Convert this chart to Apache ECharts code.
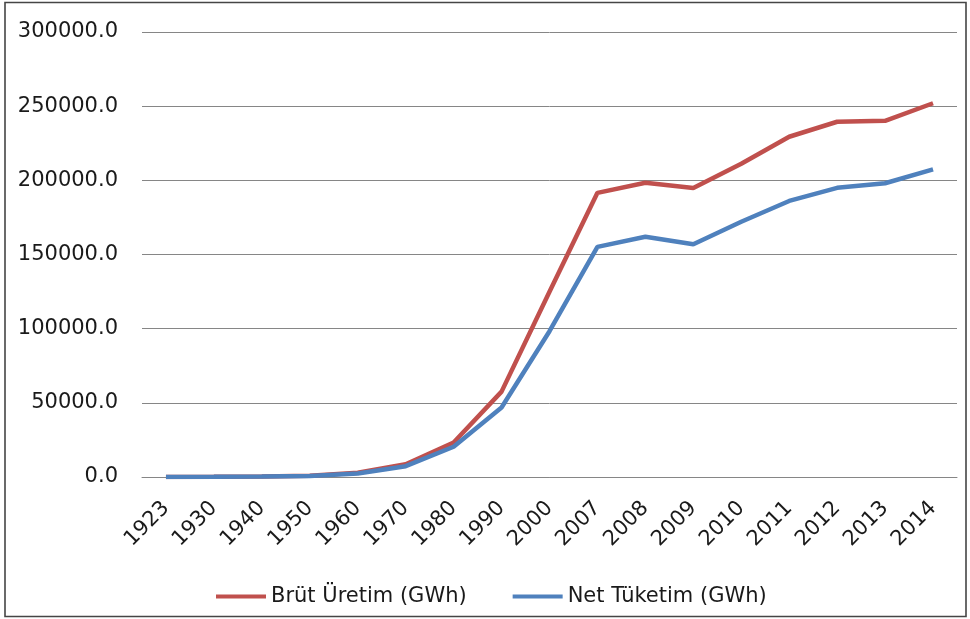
<!DOCTYPE html>
<html>
<head>
<meta charset="utf-8">
<script src="https://cdn.jsdelivr.net/npm/echarts@6/dist/echarts.min.js"></script>
<style>
html,body{margin:0;padding:0;background:#fff;}
#c{width:970px;height:619px;}
</style>
</head>
<body>
<div id="c"></div>
<script>
const categories = ['1923','1930','1940','1950','1960','1970','1980','1990','2000','2007','2008','2009','2010','2011','2012','2013','2014'];
const brutUretim = [44.5, 106, 397, 790, 2815, 8623, 23275, 57543, 124922, 191558, 198418, 194813, 211208, 229395, 239497, 240154, 251963];
const netTuketim = [40, 95, 350, 680, 2400, 7308, 20398, 46820, 98296, 155135, 161948, 156894, 172051, 186100, 194923, 198045, 207375];
const seriesNames = ['Brüt Üretim (GWh)', 'Net Tüketim (GWh)'];

const chart = echarts.init(document.getElementById('c'), null, {renderer: 'canvas'});
const font = 'DejaVu Sans';
chart.setOption({
  animation: false,
  backgroundColor: '#fff',
  graphic: [{
    type: 'rect',
    shape: {x: 5, y: 2.5, width: 961, height: 614},
    style: {fill: 'none', stroke: '#454545', lineWidth: 1.6},
    silent: true
  }],
  grid: {left: 142, right: 13, top: 32, bottom: 142, containLabel: false},
  legend: {
    left: 211,
    top: 581,
    icon: 'rect',
    itemWidth: 50,
    itemHeight: 4,
    itemGap: 46,
    textStyle: {fontFamily: font, fontSize: 21, color: '#1a1a1a'},
    data: seriesNames
  },
  xAxis: {
    type: 'category',
    data: categories,
    boundaryGap: true,
    axisLine: {show: true, lineStyle: {color: '#868686', width: 1}},
    axisTick: {show: false},
    axisLabel: {rotate: 45, margin: 28, fontFamily: font, fontSize: 21, color: '#1a1a1a', interval: 0}
  },
  yAxis: {
    type: 'value',
    min: 0,
    max: 300000,
    interval: 50000,
    axisLine: {show: false},
    axisTick: {show: false},
    axisLabel: {margin: 24, fontFamily: font, fontSize: 21, color: '#1a1a1a', formatter: v => v.toFixed(1)},
    splitLine: {lineStyle: {color: '#868686', width: 1}}
  },
  series: [
    {name: seriesNames[0], type: 'line', data: brutUretim, symbol: 'none', color: '#C0504D', lineStyle: {width: 4.5, color: '#C0504D'}},
    {name: seriesNames[1], type: 'line', data: netTuketim, symbol: 'none', color: '#4F81BD', lineStyle: {width: 4.5, color: '#4F81BD'}}
  ]
});
</script>
</body>
</html>
